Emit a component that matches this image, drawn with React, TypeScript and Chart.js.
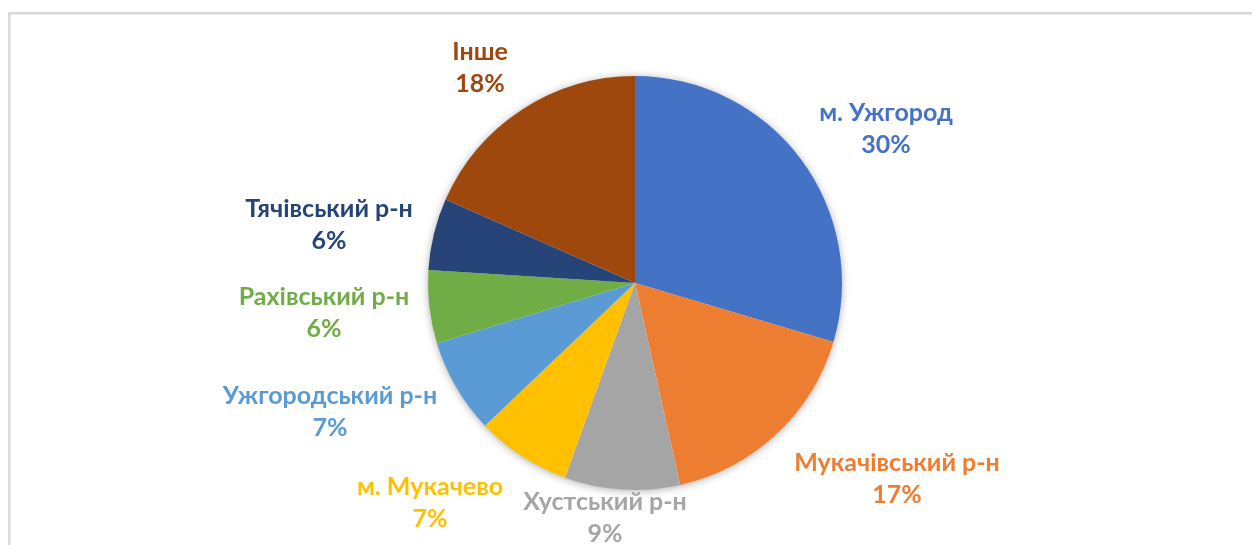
import React, { useEffect, useRef } from "react";
import { Chart, registerables } from "chart.js";

Chart.register(...registerables);

const categories = [
  "м. Ужгород",
  "Мукачівський р-н",
  "Хустський р-н",
  "м. Мукачево",
  "Ужгородський р-н",
  "Рахівський р-н",
  "Тячівський р-н",
  "Інше",
];
const shares = [29.6, 16.9, 9.0, 7.4, 7.4, 5.7, 5.6, 18.4];
const colors = ["#4472C4", "#ED7D31", "#A5A5A5", "#FFC000", "#5B9BD5", "#70AD47", "#264478", "#9E480E"];
// label first-line baseline offset from pie centre (px)
const labelOffsets: [number, number][] = [
  [251, -162],
  [262, 188],
  [-30, 227],
  [-205, 212],
  [-305, 121],
  [-311, 22],
  [-306, -66],
  [-155, -223],
];

const FONT = "bold 25px Lato, 'Open Sans', sans-serif";

export default function App() {
  const ref = useRef<HTMLCanvasElement>(null);
  useEffect(() => {
    if (!ref.current) return;
    const total = shares.reduce((a, b) => a + b, 0);
    const framePlugin = {
      id: "frame",
      beforeDraw(chart: any) {
        const ctx = chart.ctx;
        ctx.save();
        ctx.fillStyle = "#ffffff";
        ctx.fillRect(0, 0, chart.width, chart.height);
        ctx.strokeStyle = "#d9d9d9";
        ctx.lineWidth = 2.5;
        ctx.strokeRect(9.25, 13.25, chart.width + 50, chart.height + 50);
        ctx.restore();
      },
      beforeDatasetsDraw(chart: any) {
        const arc = chart.getDatasetMeta(0).data[0];
        if (!arc) return;
        const ctx = chart.ctx;
        ctx.save();
        ctx.shadowColor = "rgba(0,0,0,0.35)";
        ctx.shadowBlur = 9;
        ctx.shadowOffsetX = 0;
        ctx.shadowOffsetY = 1;
        ctx.fillStyle = "#ffffff";
        ctx.beginPath();
        ctx.arc(arc.x, arc.y, arc.outerRadius - 0.5, 0, Math.PI * 2);
        ctx.fill();
        ctx.restore();
      },
      afterDraw(chart: any) {
        const meta = chart.getDatasetMeta(0);
        const ctx = chart.ctx;
        ctx.save();
        ctx.font = FONT;
        ctx.textAlign = "center";
        ctx.textBaseline = "alphabetic";
        meta.data.forEach((arc: any, i: number) => {
          const [dx, dy] = labelOffsets[i];
          const x = arc.x + dx;
          const y = arc.y + dy;
          ctx.fillStyle = colors[i];
          ctx.fillText(categories[i], x, y);
          ctx.fillText(Math.round((shares[i] / total) * 100) + "%", x, y + 32);
        });
        ctx.restore();
      },
    };
    const chart = new Chart(ref.current, {
      type: "pie",
      data: {
        labels: categories,
        datasets: [
          {
            data: shares,
            backgroundColor: colors,
            borderWidth: 0,
          },
        ],
      },
      options: {
        animation: false,
        responsive: false,
        maintainAspectRatio: false,
        layout: { padding: { top: 76, bottom: 55, left: 200, right: 182 } },
        plugins: {
          legend: { display: false },
          tooltip: { enabled: false },
        },
      },
      plugins: [framePlugin],
    });
    return () => chart.destroy();
  }, []);
  return (
    <div style={{ position: "fixed", left: 0, top: 0, width: 1252, height: 545 }}>
      <canvas ref={ref} width={1252} height={545} style={{ width: 1252, height: 545 }} />
    </div>
  );
}
